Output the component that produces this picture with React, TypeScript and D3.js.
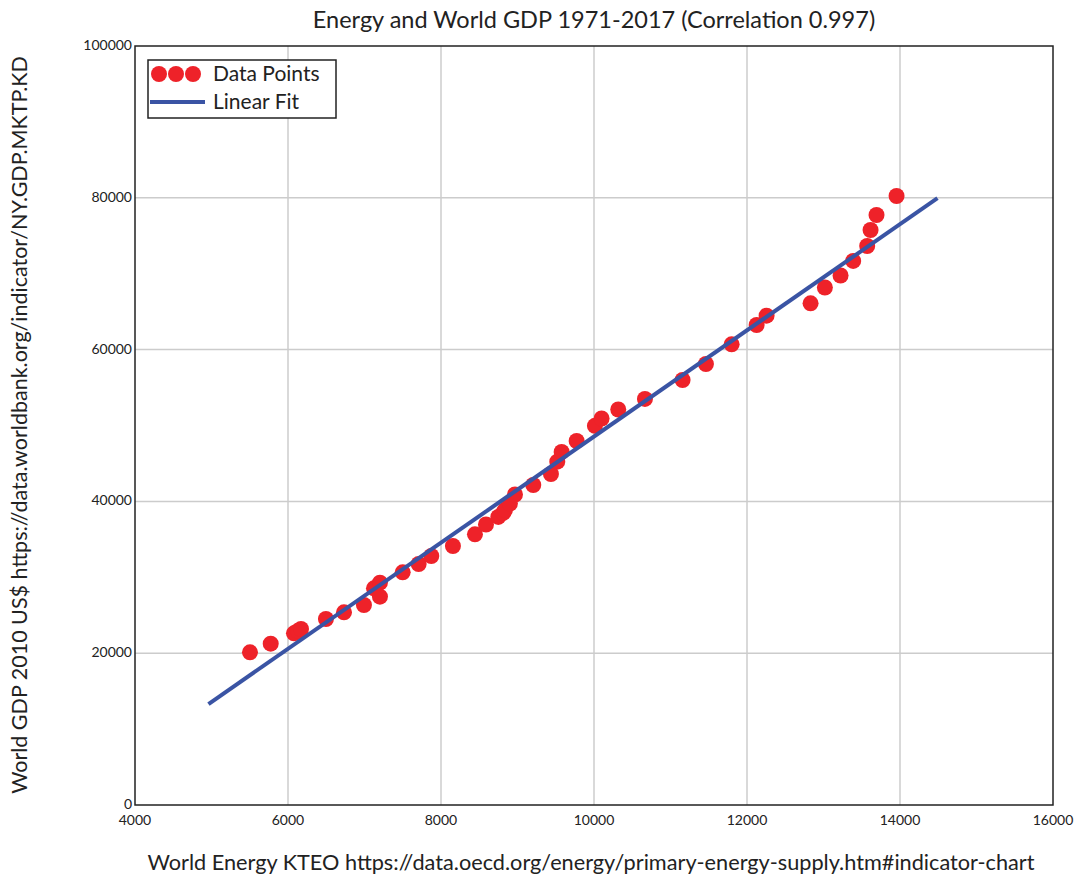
import React from "react";
import * as d3 from "d3";

const energy = [5503, 5774, 6078, 6130, 6170, 6496, 6732, 6993, 7124, 7202, 7202, 7499, 7708, 7873, 8156, 8444, 8588, 8749, 8814, 8836, 8901, 8967, 9206, 9437, 9520, 9577, 9773, 10012, 10099, 10317, 10666, 11158, 11463, 11799, 12126, 12256, 12831, 13018, 13223, 13388, 13571, 13615, 13693, 13955];
const gdp = [20118, 21251, 22622, 22925, 23188, 24506, 25388, 26350, 28550, 29288, 27444, 30657, 31752, 32806, 34123, 35665, 36956, 37957, 38484, 38866, 39722, 40908, 42160, 43609, 45230, 46513, 47962, 49962, 50922, 52108, 53500, 55994, 58102, 60693, 63240, 64465, 66099, 68186, 69763, 71689, 73649, 75757, 77733, 80236];
const fitX = [4960, 14490];
const fitY = [13300, 79950];
const xTicks = [4000, 6000, 8000, 10000, 12000, 14000, 16000];
const yTicks = [0, 20000, 40000, 60000, 80000, 100000];

const W = 1087, H = 878;
const M = { left: 135, right: 1053, top: 46, bottom: 805 };
const FONT = "Lato, 'Open Sans', sans-serif";

export default function App() {
  const x = d3.scaleLinear().domain([4000, 16000]).range([M.left, M.right]);
  const y = d3.scaleLinear().domain([0, 100000]).range([M.bottom, M.top]);
  const line = d3.line<number>().x((d, i) => x(fitX[i])).y((d, i) => y(fitY[i]));
  const red = "#ee2229";
  const blue = "#3a54a4";
  return (
    <div style={{ position: "absolute", left: 0, top: 0 }}>
      <svg width={W} height={H} style={{ display: "block", background: "#fff" }} fontFamily={FONT}>
        {xTicks.slice(1, -1).map((t) => (
          <line key={"gx" + t} x1={x(t)} x2={x(t)} y1={M.top} y2={M.bottom} stroke="#cccccc" strokeWidth={1.5} />
        ))}
        {yTicks.slice(1, -1).map((t) => (
          <line key={"gy" + t} x1={M.left} x2={M.right} y1={y(t)} y2={y(t)} stroke="#cccccc" strokeWidth={1.5} />
        ))}
        <rect x={M.left} y={M.top} width={M.right - M.left} height={M.bottom - M.top} fill="none" stroke="#222" strokeWidth={1.5} />
        {xTicks.map((t) => (
          <text key={"tx" + t} x={x(t)} y={M.bottom + 20} textAnchor="middle" fontSize={14} fill="#222">{t}</text>
        ))}
        {yTicks.map((t) => (
          <text key={"ty" + t} x={M.left - 3} y={y(t) + 4} textAnchor="end" fontSize={14} fill="#222">{t}</text>
        ))}
        {energy.map((e, i) => (
          <circle key={"p" + i} cx={x(e)} cy={y(gdp[i])} r={8} fill={red} />
        ))}
        <path d={line(fitX) || ""} fill="none" stroke={blue} strokeWidth={4} />
        <g>
          <rect x={148} y={60} width={188} height={58} fill="#fff" stroke="#222" strokeWidth={1.5} />
          {[159, 176, 193].map((cx) => (
            <circle key={"lc" + cx} cx={cx} cy={74} r={8} fill={red} />
          ))}
          <line x1={150} x2={205} y1={102} y2={102} stroke={blue} strokeWidth={4} />
          <text x={213} y={81} fontSize={21} fill="#222">Data Points</text>
          <text x={213} y={109} fontSize={21} fill="#222">Linear Fit</text>
        </g>
        <text x={594} y={28} textAnchor="middle" fontSize={23.5} fill="#222">Energy and World GDP 1971-2017 (Correlation 0.997)</text>
        <text x={591} y={870} textAnchor="middle" fontSize={21.7} fill="#222">World Energy KTEO https://data.oecd.org/energy/primary-energy-supply.htm#indicator-chart</text>
        <text transform="translate(27,425) rotate(-90)" textAnchor="middle" fontSize={21.5} fill="#222">World GDP 2010 US$ https://data.worldbank.org/indicator/NY.GDP.MKTP.KD</text>
      </svg>
    </div>
  );
}
